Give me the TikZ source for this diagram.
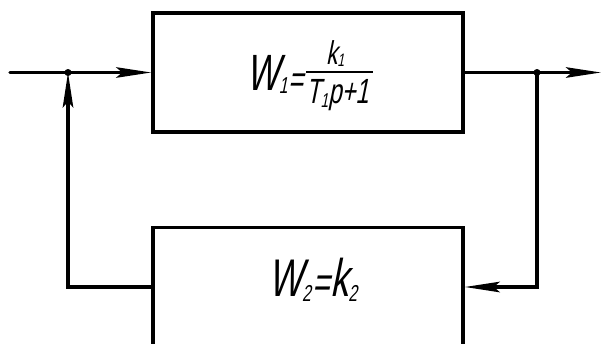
\documentclass[tikz,border=0pt]{standalone}
\usepackage{fontspec}
\newfontfamily\gost[FakeSlant=0.2,FakeStretch=0.68]{Liberation Sans}
\usetikzlibrary{arrows.meta}
\newcommand\fs[1]{\fontsize{#1}{#1}\selectfont}
\begin{document}
\begin{tikzpicture}[x=1pt,y=-1pt,
  blk/.style={draw, rectangle, minimum width=310pt, minimum height=119pt, inner sep=0pt, line width=3.5pt},
  arr/.style={-{Stealth[length=35pt,width=10.5pt,inset=6pt]}, line width=3.5pt},
  txt/.style={inner sep=0pt, anchor=base west, font=\gost},
  dot/.style={circle, fill, inner sep=0pt, minimum size=7pt}]
\useasboundingbox (0,0) rectangle (602,343);
\clip (0,0) rectangle (602,343);
% blocks
\node[blk] (b1) at (308,72.5) {};
\node[blk] (b2) at (308,287) {};
% coordinates
\coordinate (in) at (10,72.5);
\coordinate (j1) at (68,72.5);
\coordinate (j2) at (537,72.5);
\coordinate (out) at (601,72.5);
% connectors
\draw[arr, line cap=round] (in) -- (b1.west);
\draw[arr] (b1.east) -- (out);
\draw[arr] (j2) |- (b2.east);
\draw[arr] (b2.west) -| (j1);
\node[dot] (d1) at (j1) {};
\node[dot] (d2) at (j2) {};
% W1 formula
\node[txt] (w1) at (246,90) {\fs{51}W\raisebox{-3pt}{\fs{23}1}\hspace{1pt}\raisebox{-2.5pt}{\fs{38}=}};
\node[txt] (n1) at (326,64) {\fs{33}k\raisebox{-2pt}{\fs{18}1}};
\node[txt] (den1) at (306,103) {\fs{35}T\raisebox{-4pt}{\fs{20}1}p+1};
\draw[line width=1.5pt] (306,72) -- (373,72);
% W2 formula
\node[txt] (w2) at (268,296) {\fs{53}W\raisebox{-5pt}{\fs{23}2}\hspace{2pt}\raisebox{-1pt}{\fs{44}=}k\raisebox{-5pt}{\fs{23}2}};
\end{tikzpicture}
\end{document}
